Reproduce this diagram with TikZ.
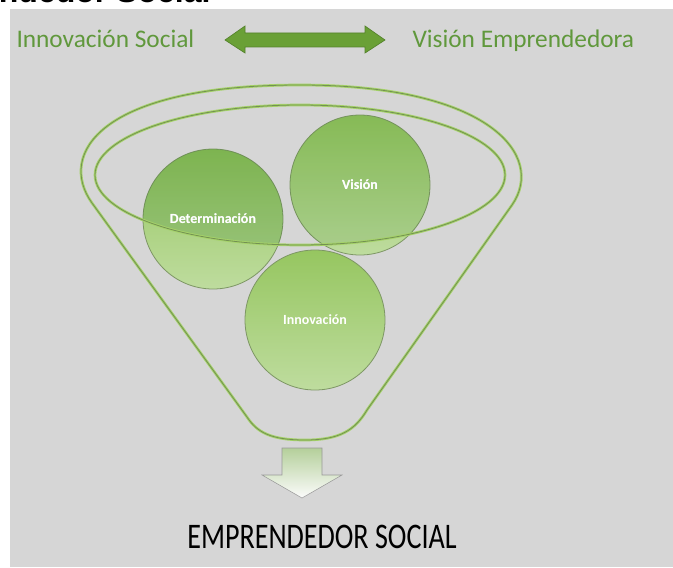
\documentclass[tikz,border=0pt]{standalone}
\usepackage{fontspec}
\setmainfont{Carlito}
\newfontfamily\arialfont{Liberation Sans}

\definecolor{bggray}{RGB}{214,214,214}
\definecolor{txtgreen}{RGB}{96,152,60}
\definecolor{arrgreen}{RGB}{106,160,54}
\definecolor{arredge}{RGB}{84,130,44}
\definecolor{circtop}{RGB}{150,198,96}
\definecolor{circbot}{RGB}{190,220,158}
\definecolor{circedge}{RGB}{125,150,100}
\definecolor{funnellight}{RGB}{165,210,105}
\definecolor{funneldark}{RGB}{115,145,82}

\tikzset{every picture/.style={line width=0.75pt},
  funnelline/.style={draw=funnellight, line width=2pt,
    postaction={draw=funneldark, line width=0.6pt}},
  bubble/.style={circle, minimum size=105pt, inner sep=0pt,
    top color=circtop, bottom color=circbot, draw=circedge, line width=0.6pt,
    text=white, font=\bfseries\fontsize{10.5}{12}\selectfont},
  toplabel/.style={text=txtgreen, font=\fontsize{19}{22}\selectfont, inner sep=0pt}}

\begin{document}
\begin{tikzpicture}[x=0.75pt,y=0.75pt,yscale=-1,xscale=1]
\useasboundingbox (0,0) rectangle (673,567);
\fill[white] (0,0) rectangle (673,567);

%Shape: Rectangle [id:background]
\fill[bggray] (10,9) rectangle (673,567);

% Text Node (cut-off heading)
\node[anchor=base east, inner sep=0pt, font=\arialfont\bfseries\fontsize{24}{24}\selectfont] (heading) at (211,2.5) {ndedor Social};

% Text Node
\node[toplabel, anchor=base west] (innsoc) at (16,48) {Innovación Social};
% Text Node
\node[toplabel, anchor=base west] (visemp) at (412,48) {Visión Emprendedora};

%Shape: Double Arrow [id:toparrow]
\draw[fill=arrgreen, draw=arredge, line width=0.5pt] (225,40) -- (245,26) -- (245,33) -- (365,33) -- (365,26) -- (385,40) -- (365,53) -- (365,47) -- (245,47) -- (245,53) -- cycle;

%Shape: Funnel [id:funnel]
\draw[funnelline] (247,417) -- (92,203) .. controls (57,154) and (100,85) .. (300,85) .. controls (490,85) and (546,156) .. (512,205) -- (367,410) .. controls (355,430) and (340,440) .. (305,440) .. controls (270,440) and (257,432) .. (247,417) -- cycle;

%Shape: Circles
\node[bubble] (det) at (213,219) {Determinación};
\node[bubble] (vis) at (360,185) {Visión};
\node[bubble] (inn) at (315,320) {Innovación};

% tint of the circles inside the funnel mouth
\begin{scope}
\clip (300,175) ellipse [x radius=205, y radius=70];
\fill[green!35!black, opacity=0.16] (det.center) circle [radius=70];
\fill[green!35!black, opacity=0.10] (vis.center) circle [radius=70];
\end{scope}
\node[text=white, font=\bfseries\fontsize{10.5}{12}\selectfont] at (det.center) {Determinación};
\node[text=white, font=\bfseries\fontsize{10.5}{12}\selectfont] at (vis.center) {Visión};

%Shape: Ellipse [id:mouth]
\draw[funnelline] (300,175) ellipse [x radius=205, y radius=70];

%Shape: Down Arrow [id:downarrow]
\draw[top color=arrgreen!50!white, bottom color=white!92!bggray, draw=gray!80, line width=0.4pt] (282,448) -- (322,448) -- (322,475) -- (342,475) -- (302,498) -- (262,475) -- (282,475) -- cycle;

% Text Node
\node[anchor=base, inner sep=0pt, font=\fontsize{27}{30}\selectfont] (emprsoc) at (322,548) {\scalebox{0.78}[1]{EMPRENDEDOR SOCIAL}};

\end{tikzpicture}
\end{document}
